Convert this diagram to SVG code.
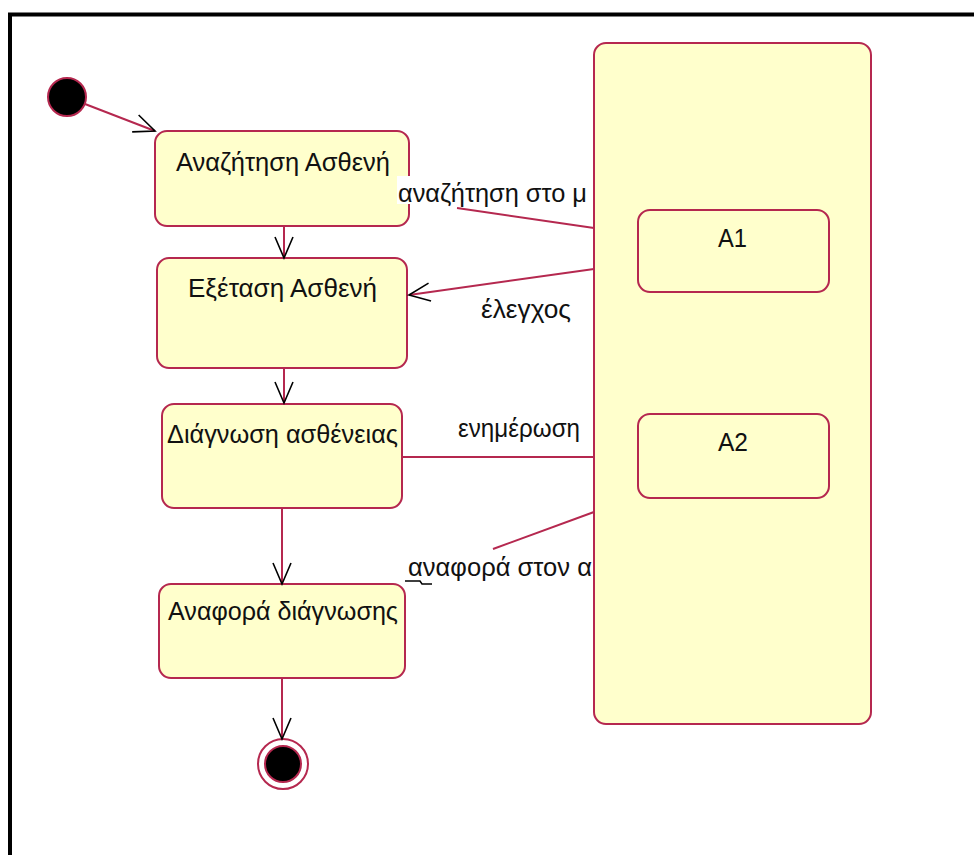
<svg xmlns="http://www.w3.org/2000/svg" width="974" height="855" viewBox="0 0 974 855">
  <style>
    .state { fill: #ffffcc; stroke: #b5284f; stroke-width: 2; }
    .conn { fill: none; stroke: #b5284f; stroke-width: 2; }
    .lbl { font-family: "Liberation Sans", Arial, sans-serif; font-size: 25px; fill: #111111; }
    .dot { fill: #000000; stroke: #b5284f; stroke-width: 2; }
  </style>
  <defs>
    <marker id="open" markerUnits="userSpaceOnUse" markerWidth="30" markerHeight="30" viewBox="-25 -15 30 30" refX="0" refY="0" orient="auto">
      <path d="M -21 -9 L 0 0 L -21 9" fill="none" stroke="#000000" stroke-width="1.6"/>
    </marker>
  </defs>

  <!-- page and frame -->
  <rect x="0" y="0" width="974" height="855" fill="#ffffff"/>
  <rect x="10" y="14.5" width="1000" height="900" fill="#ffffff" stroke="#000000" stroke-width="4"/>

  <!-- initial state -->
  <g id="start">
    <circle cx="67" cy="97" r="19" class="dot"/>
  </g>

  <!-- left-hand column of states -->
  <g id="search-patient">
    <rect x="155" y="131" width="254" height="95" rx="12" class="state"/>
    <text x="176" y="171" class="lbl" textLength="214" lengthAdjust="spacingAndGlyphs">Αναζήτηση Ασθενή</text>
  </g>
  <g id="examine-patient">
    <rect x="157" y="258" width="250" height="110" rx="12" class="state"/>
    <text x="188" y="297" class="lbl" textLength="189" lengthAdjust="spacingAndGlyphs">Εξέταση Ασθενή</text>
  </g>
  <g id="diagnosis">
    <rect x="162" y="404" width="240" height="104" rx="12" class="state"/>
    <text x="167" y="443" class="lbl" textLength="231" lengthAdjust="spacingAndGlyphs">Διάγνωση ασθένειας</text>
  </g>
  <g id="diagnosis-report">
    <rect x="159" y="584" width="246" height="94" rx="12" class="state"/>
    <text x="168" y="620" class="lbl" textLength="230" lengthAdjust="spacingAndGlyphs">Αναφορά διάγνωσης</text>
  </g>

  <!-- final state -->
  <g id="end">
    <circle cx="283" cy="764" r="25" fill="#ffffff" stroke="#b5284f" stroke-width="2"/>
    <circle cx="283" cy="764" r="18" class="dot"/>
  </g>

  <!-- transitions -->
  <g id="connectors">
    <line x1="85" y1="104" x2="155" y2="131" class="conn" marker-end="url(#open)"/>
    <line x1="284" y1="226" x2="284" y2="258" class="conn" marker-end="url(#open)"/>
    <line x1="284" y1="368" x2="284" y2="403" class="conn" marker-end="url(#open)"/>
    <line x1="282" y1="508" x2="282" y2="584" class="conn" marker-end="url(#open)"/>
    <line x1="282" y1="678" x2="282" y2="739" class="conn" marker-end="url(#open)"/>

    <line x1="457" y1="208" x2="594" y2="228" class="conn"/>
    <line x1="594" y1="269" x2="409" y2="295" class="conn" marker-end="url(#open)"/>
    <line x1="402" y1="457" x2="594" y2="457" class="conn"/>
    <line x1="594" y1="512" x2="493" y2="549" class="conn"/>
    <polyline points="405,581 420,581 422,584 432,584" fill="none" stroke="#000000" stroke-width="1.5"/>

    <!-- transition labels -->
    <rect x="397" y="176" width="197" height="28" fill="#ffffff"/>
    <text x="398" y="202" class="lbl" textLength="189" lengthAdjust="spacingAndGlyphs">αναζήτηση στο μ</text>
    <text x="481" y="318" class="lbl" textLength="90" lengthAdjust="spacingAndGlyphs">έλεγχος</text>
    <text x="458" y="437" class="lbl" textLength="122" lengthAdjust="spacingAndGlyphs">ενημέρωση</text>
    <text x="408" y="576" class="lbl" textLength="184" lengthAdjust="spacingAndGlyphs">αναφορά στον α</text>
  </g>

  <!-- composite state with two sub-states -->
  <g id="composite">
    <rect x="594" y="43" width="277" height="681" rx="12" class="state"/>
  </g>
  <g id="a1">
    <rect x="638" y="210" width="191" height="82" rx="12" class="state"/>
    <text x="718" y="247" class="lbl" textLength="29" lengthAdjust="spacingAndGlyphs">A1</text>
  </g>
  <g id="a2">
    <rect x="638" y="414" width="191" height="84" rx="12" class="state"/>
    <text x="718" y="451" class="lbl" textLength="30" lengthAdjust="spacingAndGlyphs">A2</text>
  </g>
</svg>
